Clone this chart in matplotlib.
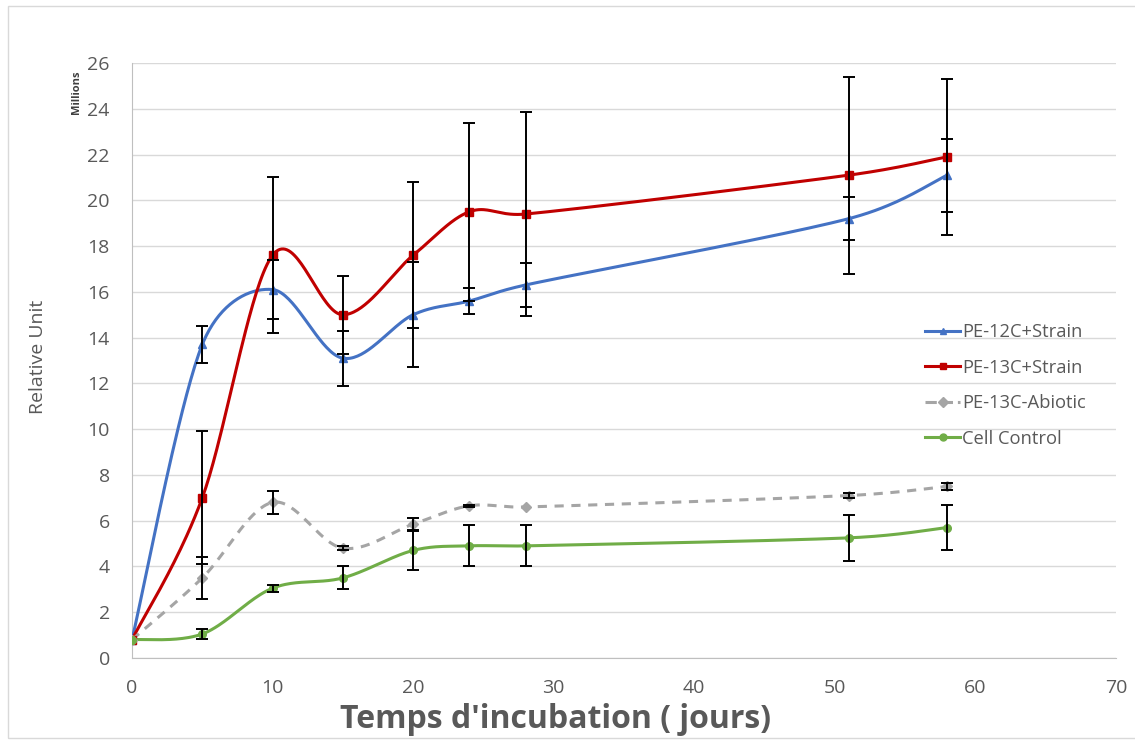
import numpy as np
import matplotlib
matplotlib.use("Agg")
from matplotlib import pyplot as plt
from matplotlib.patches import Rectangle

plt.rcParams['font.family'] = ['Open Sans', 'DejaVu Sans']

# incubation days
days = [0, 5, 10, 15, 20, 24, 28, 51, 58]

# values in millions
pe12_strain = [0.8, 13.7, 16.1, 13.1, 15.0, 15.6, 16.3, 19.2, 21.1]
pe12_err = [0.0, 0.8, 1.3, 1.2, 2.3, 0.55, 0.95, 0.95, 1.6]

pe13_strain = [0.8, 7.0, 17.6, 15.0, 17.6, 19.5, 19.4, 21.1, 21.9]
pe13_err = [0.0, 2.9, 3.4, 1.7, 3.2, 3.9, 4.45, 4.3, 3.4]

pe13_abiotic = [0.8, 3.5, 6.8, 4.8, 5.85, 6.65, 6.6, 7.1, 7.5]
abiotic_err = [0.0, 0.9, 0.5, 0.1, 0.25, 0.05, 0.0, 0.1, 0.15]

cell_control = [0.8, 1.05, 3.05, 3.5, 4.7, 4.9, 4.9, 5.25, 5.7]
control_err = [0.0, 0.2, 0.15, 0.5, 0.85, 0.9, 0.9, 1.0, 1.0]

labels = ['PE-12C+Strain', 'PE-13C+Strain', 'PE-13C-Abiotic', 'Cell Control']
colors = ['#4472C4', '#C00000', '#A5A5A5', '#70AD47']
markers = ['^', 's', 'D', 'o']
styles = ['-', '-', '--', '-']

# pixels per data unit, for smoothing in screen space like excel does
sx, sy = 14.06, 22.88


def ctrl(a, b, seg):
    # tangent offset, capped at half the segment length
    v = (b - a) / 6
    lim = np.hypot(*seg) / 2
    n = np.hypot(*v)
    if n > lim:
        v = v * lim / n
    return v


def smooth(x, y, n=40):
    p = np.column_stack([np.array(x) * sx, np.array(y) * sy])
    p = np.vstack([p[0], p, p[-1]])
    out = []
    t = np.linspace(0, 1, n)[:, None]
    for i in range(1, len(p) - 2):
        p0, p1, p2, p3 = p[i - 1], p[i], p[i + 1], p[i + 2]
        c1 = p1 + ctrl(p0, p2, p2 - p1)
        c2 = p2 - ctrl(p1, p3, p2 - p1)
        seg = ((1 - t) ** 3) * p1 + 3 * ((1 - t) ** 2) * t * c1 + 3 * (1 - t) * t ** 2 * c2 + t ** 3 * p2
        out.append(seg)
    out = np.vstack(out)
    return out[:, 0] / sx, out[:, 1] / sy


fig = plt.figure(figsize=(11.35, 7.44), dpi=100)
fig.patches.append(Rectangle((8 / 1135, 6 / 744), 1.2, 732 / 744, transform=fig.transFigure,
                             fill=False, edgecolor='#d9d9d9', lw=1.0))
ax = fig.add_axes([132 / 1135, 1 - 658 / 744, (1116 - 132) / 1135, (658 - 63) / 744])

series = [(pe12_strain, pe12_err), (pe13_strain, pe13_err),
          (pe13_abiotic, abiotic_err), (cell_control, control_err)]

for (vals, err), lab, c, m, ls in zip(series, labels, colors, markers, styles):
    xs, ys = smooth(days, vals)
    ax.plot(xs, ys, color=c, lw=2.2, ls=ls, dashes=(3, 2.5) if ls == '--' else (None, None), zorder=3)
    ax.plot(days, vals, ls='none', marker=m, ms=5.5, color=c, zorder=4)
    ax.plot([], [], color=c, lw=2.2, ls=ls, marker=m, ms=5, label=lab)

for vals, err in series:
    e = np.array(err)
    ax.errorbar(days, vals, yerr=np.where(e > 0, e, np.nan), fmt='none', ecolor='black',
                elinewidth=1.4, capsize=4, capthick=1.4, zorder=5)

ax.set_xlim(0, 70)
ax.set_ylim(0, 26)
ax.set_xticks(range(0, 71, 10))
ax.set_yticks(range(0, 27, 2))
ax.grid(axis='y', color='#d9d9d9', lw=1.0)
ax.set_axisbelow(True)
for s in ['top', 'right']:
    ax.spines[s].set_visible(False)
for s in ['left', 'bottom']:
    ax.spines[s].set_color('#bfbfbf')
ax.tick_params(length=0, labelsize=14, labelcolor='#595959')
ax.tick_params(axis='x', pad=15)
ax.tick_params(axis='y', pad=16)

fig.text(556 / 1135, 1 - 719 / 744, "Temps d'incubation ( jours)", fontsize=23, fontweight='bold',
         color='#595959', ha='center', va='center')
fig.text(38 / 1135, 1 - 357 / 744, 'Relative Unit', rotation=90, fontsize=14, color='#595959',
         ha='center', va='center')
fig.text(77 / 1135, 1 - 92 / 744, 'Millions', rotation=90, fontsize=8, fontweight='bold',
         color='#404040', ha='center', va='center')

leg = ax.legend(loc='upper left', bbox_to_anchor=(918 / 1135, 1 - 316 / 744), bbox_transform=fig.transFigure,
                frameon=False, fontsize=13.2, handlelength=1.9, handletextpad=0.1, labelspacing=0.95,
                borderaxespad=0)
for t in leg.get_texts():
    t.set_color('#595959')

fig.savefig('out.png', dpi=100)
